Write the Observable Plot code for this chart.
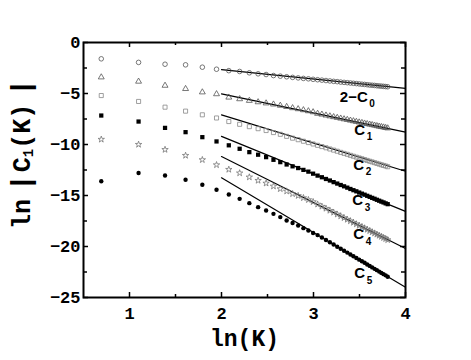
<!DOCTYPE html>
<html><head><meta charset="utf-8">
<script src="https://cdn.jsdelivr.net/npm/d3@7"></script>
<script src="https://cdn.jsdelivr.net/npm/@observablehq/plot@0.6"></script>
<style>body{margin:0;background:#fff;}</style>
</head><body><div id="chart"></div>
<script>
// ---- data ----
const K = [2,3,4,5,6,7,8,9,10,11,12,13,14,15,16,17,18,19,20,21,22,23,24,25,26,27,28,29,30,31,32,33,34,35,36,37,38,39,40,41,42,43,44,45];
const c0 = [-1.6,-1.95,-2.13,-2.19,-2.42,-2.62,-2.76,-2.84,-2.97,-3.07,-3.14,-3.24,-3.30,-3.36,-3.42,-3.47,-3.52,-3.56,-3.61,
  -3.65,-3.69,-3.73,-3.77,-3.81,-3.84,-3.88,-3.91,-3.94,-3.97,-4.00,-4.03,-4.06,-4.09,-4.11,-4.14,-4.17,-4.19,-4.21,-4.24,-4.26,-4.28,-4.30,-4.32,-4.34];
const c1 = [-3.4,-3.82,-4.22,-4.54,-4.87,-5.05,-5.38,-5.54,-5.70,-5.84,-5.95,-6.06,-6.18,-6.30,-6.42,-6.52,-6.62,-6.72,-6.82,
  -6.97,-7.05,-7.14,-7.22,-7.30,-7.37,-7.44,-7.51,-7.57,-7.64,-7.70,-7.76,-7.82,-7.87,-7.93,-7.98,-8.03,-8.08,-8.13,-8.18,-8.23,-8.27,-8.31,-8.36,-8.40];
const c2 = [-5.2,-5.78,-6.34,-6.73,-7.09,-7.40,-7.75,-8.02,-8.25,-8.45,-8.63,-8.83,-9.0,-9.2,-9.38,-9.53,-9.68,-9.81,-9.95,
  -10.08,-10.20,-10.32,-10.44,-10.55,-10.66,-10.77,-10.87,-10.96,-11.06,-11.15,-11.24,-11.32,-11.40,-11.48,-11.56,-11.64,-11.71,-11.78,-11.85,-11.92,-11.99,-12.05,-12.11,-12.18];
const c3 = [-7.16,-7.75,-8.37,-8.79,-9.28,-9.70,-10.08,-10.42,-10.75,-11.0,-11.24,-11.5,-11.73,-11.96,-12.14,-12.31,-12.49,-12.66,-12.86,
  -13.05,-13.21,-13.38,-13.53,-13.69,-13.83,-13.97,-14.10,-14.23,-14.36,-14.48,-14.59,-14.71,-14.82,-14.92,-15.03,-15.13,-15.23,-15.32,-15.42,-15.51,-15.60,-15.68,-15.77,-15.85];
const c4 = [-9.5,-10.0,-10.5,-11.08,-11.5,-12.0,-12.45,-12.8,-13.2,-13.53,-13.8,-14.09,-14.35,-14.58,-14.84,-15.02,-15.23,-15.42,-15.62,
  -15.86,-16.07,-16.27,-16.47,-16.66,-16.84,-17.02,-17.19,-17.35,-17.50,-17.65,-17.80,-17.94,-18.07,-18.20,-18.33,-18.46,-18.58,-18.70,-18.81,-18.92,-19.03,-19.14,-19.24,-19.35];
const c5 = [-13.6,-12.8,-13.04,-13.46,-13.95,-14.44,-14.9,-15.33,-15.75,-16.14,-16.47,-16.8,-17.12,-17.45,-17.7,-17.94,-18.2,-18.43,-18.68,
  -18.88,-19.12,-19.36,-19.59,-19.81,-20.02,-20.22,-20.41,-20.60,-20.78,-20.96,-21.13,-21.29,-21.45,-21.60,-21.76,-21.90,-22.05,-22.19,-22.32,-22.46,-22.59,-22.71,-22.83,-22.96];
const seriesValues = [c0, c1, c2, c3, c4, c5];
const seriesNames = ["2−C0","C1","C2","C3","C4","C5"];
// fitted lines (ln K from 2 to 4)
const fitX = [2, 4];
const fitStart = [-2.65, -5.03, -7.09, -9.2, -11.18, -13.27];
const fitEnd = [-4.5, -8.79, -12.62, -16.56, -20.2, -23.99];
// labels
const labelMain = ["2−C","C","C","C","C","C"];
const labelSub = ["0","1","2","3","4","5"];
const labelX = [3.59, 3.562, 3.55, 3.54, 3.55, 3.56];
const labelY = [-5.36, -8.63, -12.06, -15.42, -18.82, -22.65];
const subX = [3.607, 3.58, 3.568, 3.558, 3.568, 3.578];
const subY = [-5.98, -9.2, -12.65, -16.2, -19.55, -23.4];
// ticks
const xMajor = [1, 2, 3, 4];
const xMinor = [1.5, 2.5, 3.5];
const yMajor = [0, -5, -10, -15, -20, -25];
const yMinor = [-2.5, -7.5, -12.5, -17.5, -22.5];

// ---- build ----
const W = 471, H = 360, mL = 83, mR = 66, mT = 42, mB = 63;
const pw = W - mL - mR, ph = H - mT - mB;

const points = seriesValues.flatMap((vals, s) => K.map((k, i) => ({x: Math.log(k), y: vals[i], s: seriesNames[s]})));
const fits = seriesNames.flatMap((n, s) => [{x: fitX[0], y: fitStart[s], s: n}, {x: fitX[1], y: fitEnd[s], s: n}]);
const labels = labelMain.map((t, i) => ({t, x: labelX[i], y: labelY[i]}));
const subs = labelSub.map((t, i) => ({t, x: subX[i], y: subY[i]}));

const styleOf = {
  "2−C0": {symbol: "circle", fill: "none", stroke: "#555", r: 2.3},
  "C1": {symbol: "triangle", fill: "none", stroke: "#555", r: 2.2},
  "C2": {symbol: "square", fill: "none", stroke: "#888", r: 2.3},
  "C3": {symbol: "square", fill: "black", stroke: "none", r: 2.4},
  "C4": {symbol: "star", fill: "none", stroke: "#777", r: 2.0},
  "C5": {symbol: "circle", fill: "black", stroke: "none", r: 2.2}
};
const dotMarks = seriesNames.map(n => Plot.dot(points.filter(d => d.s === n), {
  x: "x", y: "y", symbol: () => styleOf[n].symbol, fill: styleOf[n].fill, stroke: styleOf[n].stroke,
  r: styleOf[n].r, strokeWidth: 0.8
}));

const mono = "Liberation Mono, Courier New, monospace";
const sans = "Liberation Sans, Arial, sans-serif";

const chart = Plot.plot({
  width: W, height: H,
  marginLeft: mL, marginRight: mR, marginTop: mT, marginBottom: mB,
  x: {domain: [0.5, 4]},
  y: {domain: [-25, 0]},
  style: {fontFamily: mono, fontWeight: "bold", fontSize: "17px", background: "white", color: "black"},
  marks: [
    Plot.axisX({ticks: xMajor, tickFormat: d => String(d), tickSize: 0, tickPadding: 9, label: null, fontSize: 17, fontWeight: "bold"}),
    Plot.axisY({ticks: yMajor, tickSize: 0, tickPadding: 3, label: null, fontSize: 17, fontWeight: "bold"}),
    Plot.line(fits, {x: "x", y: "y", z: "s", stroke: "black", strokeWidth: 1.2}),
    ...dotMarks,
    Plot.tickX(xMajor, {x: d => d, insetTop: ph - 5, strokeWidth: 1.5}),
    Plot.tickX(xMajor, {x: d => d, insetBottom: ph - 5, strokeWidth: 1.5}),
    Plot.tickX(xMinor, {x: d => d, insetTop: ph - 3, strokeWidth: 1.5}),
    Plot.tickX(xMinor, {x: d => d, insetBottom: ph - 3, strokeWidth: 1.5}),
    Plot.tickY(yMajor, {y: d => d, insetRight: pw - 5, strokeWidth: 1.5}),
    Plot.tickY(yMajor, {y: d => d, insetLeft: pw - 5, strokeWidth: 1.5}),
    Plot.tickY(yMinor, {y: d => d, insetRight: pw - 4, strokeWidth: 1.5}),
    Plot.tickY(yMinor, {y: d => d, insetLeft: pw - 4, strokeWidth: 1.5}),
    Plot.frame({strokeWidth: 2}),
    Plot.text(labels, {x: "x", y: "y", text: "t", textAnchor: "end", fontFamily: sans, fontWeight: "bold", fontSize: 15, fill: "black"}),
    Plot.text(subs, {x: "x", y: "y", text: "t", textAnchor: "start", fontFamily: sans, fontWeight: "bold", fontSize: 10, fill: "black"}),
    Plot.text(["ln(K)"], {frameAnchor: "bottom", lineAnchor: "middle", dy: 41, fontFamily: mono, fontWeight: "bold", fontSize: 23, fill: "black"})
  ]
});

const svg = d3.select(chart);
const t = svg.append("text")
  .attr("transform", "translate(23,154) rotate(-90)")
  .attr("text-anchor", "middle")
  .attr("dominant-baseline", "middle")
  .attr("font-family", mono).attr("font-weight", "bold").attr("font-size", 25).attr("fill", "black");
t.append("tspan").text("ln");
t.append("tspan").attr("dx", 8).attr("font-size", 28).text("|");
t.append("tspan").attr("dx", 2).text("C");
t.append("tspan").attr("font-size", 14).attr("dy", 6).text("1");
t.append("tspan").attr("dy", -6).text("(K)");
t.append("tspan").attr("dx", 8).attr("font-size", 28).text("|");

document.getElementById("chart").appendChild(chart);
</script>
</body></html>
